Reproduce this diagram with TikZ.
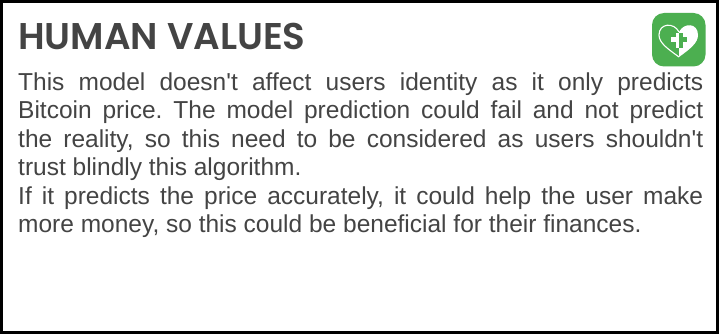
\documentclass[tikz,border=0pt]{standalone}
\usepackage{fontspec}
\newfontfamily\bodyfont{Liberation Sans}
\newfontfamily\titlefont{Poppins}[UprightFont=* SemiBold]
\definecolor{txt}{HTML}{444444}
\definecolor{iconGreen}{HTML}{4CAF50}
\hbadness=10000
\tikzset{
  panel/.style={draw=black,line width=3pt,fill=white},
  titletext/.style={anchor=base west,inner sep=0pt,text=txt,font=\titlefont\fontsize{37.2}{37.2}\selectfont},
  bodytext/.style={anchor=north west,inner sep=0pt,text=txt,text width=685pt,align=justify,font=\bodyfont\fontsize{24.5}{28.4}\selectfont\frenchspacing},
}
\begin{document}
\begin{tikzpicture}[x=1pt,y=-1pt]
\useasboundingbox (0,0) rectangle (719,334);
\draw[panel] (1.5,1.5) rectangle (717.5,332.5);
\node[titletext] (title) at (18,50) {HUMAN VALUES};
\node[bodytext] (body) at (18,72.5) {This model doesn't affect users identity as it only predicts\linebreak Bitcoin price. The model prediction could fail and not predict\linebreak the reality, so this need to be considered as users shouldn't\linebreak trust blindly this algorithm.\\
If it predicts the price accurately, it could help the user make\linebreak more money, so this could be beneficial for their finances.};
\fill[iconGreen,rounded corners=12pt] (652,13) rectangle (705.5,66.5);
\begin{scope}
\clip (679,20) rectangle (700,60);
\fill[white] (679,57) .. controls (668,49) and (659,43) .. (659,35) .. controls (659,23) and (674,22) .. (679,32) .. controls (684,22) and (698,23) .. (698,35) .. controls (698,43) and (690,49) .. (679,57) -- cycle;
\end{scope}
\draw[white,line width=1.1pt] (679,57) .. controls (668,49) and (659,43) .. (659,35) .. controls (659,23) and (674,22) .. (679,32);
\fill[white] (671,37.5) rectangle (679,42.5);
\fill[white] (675.5,33) rectangle (679,48);
\fill[iconGreen] (679,33) rectangle (682.5,48);
\fill[iconGreen] (679,37.5) rectangle (687,42.5);
\end{tikzpicture}
\end{document}
